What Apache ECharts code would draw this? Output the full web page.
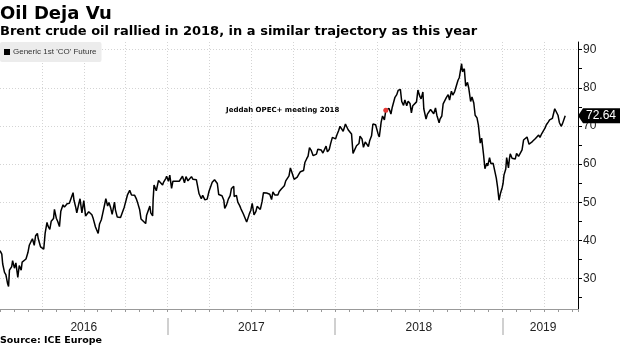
<!DOCTYPE html>
<html><head><meta charset="utf-8">
<script src="https://cdn.jsdelivr.net/npm/echarts@6/dist/echarts.min.js"></script>
<style>html,body{margin:0;padding:0;background:#fff}#c{width:620px;height:348px}</style>
</head><body><div id="c"></div>
<script>
const titleText = 'Oil Deja Vu';
const subtitleText = 'Brent crude oil rallied in 2018, in a similar trajectory as this year';
const sourceText = 'Source: ICE Europe';
const seriesName = "Generic 1st 'CO' Future";
const annotationDate = '2018-04-20';
const annotationText = 'Jeddah OPEC+ meeting 2018';
const lastLabel = '72.64';
const yTicks = [25,30,35,40,45,50,55,60,65,70,75,80,85,90];
const yLabels = [30,40,50,60,70,80,90];
const yearLabels = ['2016','2017','2018','2019'];

const dates = [
'2016-01-01','2016-01-05','2016-01-07','2016-01-11','2016-01-14','2016-01-18','2016-01-20','2016-01-22','2016-01-27','2016-01-29',
'2016-02-02','2016-02-05','2016-02-09','2016-02-11','2016-02-12','2016-02-16','2016-02-18','2016-02-22','2016-02-26',
'2016-03-01','2016-03-04','2016-03-08','2016-03-11','2016-03-15','2016-03-18','2016-03-22','2016-03-24','2016-03-29',
'2016-04-01','2016-04-05','2016-04-08','2016-04-12','2016-04-14','2016-04-18','2016-04-21','2016-04-26','2016-04-28',
'2016-05-02','2016-05-05','2016-05-09','2016-05-12','2016-05-17','2016-05-20','2016-05-24','2016-05-26','2016-05-31',
'2016-06-03','2016-06-08','2016-06-10','2016-06-14','2016-06-16','2016-06-20','2016-06-23','2016-06-27',
'2016-07-01','2016-07-05','2016-07-08','2016-07-12','2016-07-15','2016-07-19','2016-07-22','2016-07-27',
'2016-08-02','2016-08-05','2016-08-09','2016-08-12','2016-08-16','2016-08-19','2016-08-23','2016-08-26','2016-08-30',
'2016-09-02','2016-09-07','2016-09-09','2016-09-13','2016-09-16','2016-09-20','2016-09-23','2016-09-28','2016-09-30',
'2016-10-05','2016-10-10','2016-10-14','2016-10-18','2016-10-21','2016-10-25','2016-10-28',
'2016-11-01','2016-11-04','2016-11-08','2016-11-14','2016-11-16','2016-11-18','2016-11-23','2016-11-25','2016-11-29','2016-11-30',
'2016-12-02','2016-12-07','2016-12-12','2016-12-16','2016-12-21','2016-12-23','2016-12-28','2016-12-30',
'2017-01-03','2017-01-06','2017-01-10','2017-01-13','2017-01-17','2017-01-20','2017-01-24','2017-01-27','2017-01-31',
'2017-02-03','2017-02-07','2017-02-10','2017-02-14','2017-02-17','2017-02-21','2017-02-24','2017-02-28',
'2017-03-03','2017-03-07','2017-03-09','2017-03-14','2017-03-17','2017-03-22','2017-03-27','2017-03-31',
'2017-04-04','2017-04-07','2017-04-12','2017-04-18','2017-04-21','2017-04-25','2017-04-28',
'2017-05-02','2017-05-04','2017-05-08','2017-05-12','2017-05-16','2017-05-19','2017-05-24','2017-05-25','2017-05-30',
'2017-06-02','2017-06-06','2017-06-09','2017-06-14','2017-06-16','2017-06-21','2017-06-23','2017-06-27','2017-06-30',
'2017-07-03','2017-07-07','2017-07-11','2017-07-14','2017-07-18','2017-07-21','2017-07-25','2017-07-28','2017-07-31',
'2017-08-04','2017-08-08','2017-08-11','2017-08-15','2017-08-18','2017-08-22','2017-08-25','2017-08-29',
'2017-09-01','2017-09-05','2017-09-08','2017-09-12','2017-09-15','2017-09-19','2017-09-22','2017-09-25','2017-09-29',
'2017-10-03','2017-10-06','2017-10-10','2017-10-13','2017-10-17','2017-10-20','2017-10-24','2017-10-27','2017-10-31',
'2017-11-03','2017-11-06','2017-11-10','2017-11-14','2017-11-17','2017-11-21','2017-11-24','2017-11-28',
'2017-12-01','2017-12-05','2017-12-08','2017-12-12','2017-12-15','2017-12-19','2017-12-22','2017-12-26','2017-12-29',
'2018-01-02','2018-01-05','2018-01-09','2018-01-12','2018-01-15','2018-01-19','2018-01-24','2018-01-26','2018-01-30',
'2018-02-02','2018-02-06','2018-02-09','2018-02-13','2018-02-16','2018-02-21','2018-02-23','2018-02-27',
'2018-03-02','2018-03-06','2018-03-09','2018-03-13','2018-03-16','2018-03-20','2018-03-23','2018-03-27','2018-03-29',
'2018-04-03','2018-04-06','2018-04-10','2018-04-13','2018-04-17','2018-04-20','2018-04-24','2018-04-27',
'2018-05-01','2018-05-04','2018-05-08','2018-05-10','2018-05-14','2018-05-17','2018-05-22','2018-05-25','2018-05-29',
'2018-06-01','2018-06-05','2018-06-08','2018-06-12','2018-06-15','2018-06-18','2018-06-22','2018-06-26','2018-06-29',
'2018-07-03','2018-07-06','2018-07-10','2018-07-12','2018-07-17','2018-07-20','2018-07-24','2018-07-27','2018-07-31',
'2018-08-03','2018-08-07','2018-08-10','2018-08-15','2018-08-17','2018-08-21','2018-08-24','2018-08-28','2018-08-31',
'2018-09-04','2018-09-07','2018-09-11','2018-09-14','2018-09-18','2018-09-21','2018-09-25','2018-09-28',
'2018-10-03','2018-10-05','2018-10-09','2018-10-12','2018-10-16','2018-10-19','2018-10-23','2018-10-26','2018-10-30',
'2018-11-02','2018-11-06','2018-11-09','2018-11-13','2018-11-16','2018-11-20','2018-11-23','2018-11-27','2018-11-29',
'2018-12-03','2018-12-06','2018-12-11','2018-12-14','2018-12-18','2018-12-21','2018-12-24','2018-12-27','2018-12-31',
'2019-01-02','2019-01-04','2019-01-08','2019-01-10','2019-01-14','2019-01-16','2019-01-18','2019-01-22','2019-01-25','2019-01-29',
'2019-02-01','2019-02-05','2019-02-08','2019-02-12','2019-02-15','2019-02-19','2019-02-22','2019-02-26',
'2019-03-01','2019-03-05','2019-03-08','2019-03-12','2019-03-15','2019-03-19','2019-03-22','2019-03-26','2019-03-29',
'2019-04-02','2019-04-05','2019-04-09','2019-04-12','2019-04-16','2019-04-18','2019-04-23','2019-04-25','2019-04-30',
'2019-05-03','2019-05-07','2019-05-10','2019-05-13','2019-05-16'
];
const prices = [
37.3,36.4,33.8,31.6,31.0,28.6,27.9,32.2,33.1,34.7,
32.7,34.1,30.3,30.1,33.4,32.2,34.3,34.7,35.1,
36.8,38.7,39.7,40.4,38.7,41.2,41.8,40.4,38.3,
38.7,37.7,41.9,44.7,43.8,42.9,45.0,45.7,48.1,
45.8,45.0,43.6,47.6,49.3,48.7,48.6,49.6,49.7,
49.6,52.5,50.5,48.5,47.2,49.4,50.9,47.2,
50.4,46.4,46.8,47.5,47.6,46.7,45.7,43.5,
41.8,44.3,45.4,47.0,49.2,50.9,49.0,49.9,48.4,
46.8,50.0,48.0,46.1,45.8,46.0,45.9,48.7,49.1,
51.9,53.1,51.9,52.0,51.8,50.8,49.7,
48.1,45.6,46.0,44.4,46.6,46.9,49.0,47.2,46.4,50.5,
54.5,53.0,55.7,55.2,54.5,55.2,56.2,56.8,
55.5,57.1,53.6,55.5,55.5,55.5,55.4,55.5,55.7,
56.8,55.1,56.7,55.6,55.8,56.7,56.0,55.6,
55.9,55.9,52.2,50.9,51.8,50.6,50.8,52.8,
54.2,55.2,55.9,54.9,52.0,52.1,51.7,
50.5,48.4,49.3,50.8,51.7,53.6,54.2,51.5,51.8,
50.0,49.1,48.2,46.9,47.4,44.8,45.5,47.0,47.9,
49.7,46.7,47.5,48.9,49.0,48.1,50.2,52.5,52.7,
52.4,52.1,52.1,50.7,52.7,51.9,52.4,51.9,
52.8,53.4,53.8,54.3,55.6,55.1,56.9,59.0,57.5,
56.0,55.6,56.6,57.2,58.0,57.8,58.3,60.4,61.4,
62.1,64.3,63.5,62.2,62.7,62.6,63.9,63.6,
63.7,62.9,63.4,64.7,63.2,63.8,65.3,67.0,66.9,
66.6,67.6,68.8,69.9,70.3,68.6,70.5,70.5,69.0,
68.6,67.9,62.8,62.7,64.8,65.4,67.3,66.6,
64.4,65.8,65.5,64.6,66.2,67.4,70.5,70.1,70.3,
68.1,67.1,71.0,72.6,71.6,74.1,73.9,74.6,
73.1,74.9,74.9,77.5,78.2,79.3,79.6,76.4,75.4,
76.8,75.3,76.5,75.9,73.4,75.3,75.6,76.3,79.4,
77.8,77.1,78.9,74.5,71.8,73.1,73.4,74.3,74.3,
73.2,74.7,72.8,70.8,71.8,72.6,75.8,76.3,77.4,
78.2,76.8,79.1,78.1,79.0,78.8,81.9,82.7,
86.3,84.2,85.0,80.4,81.4,79.8,76.4,77.6,76.0,
72.8,72.1,70.2,65.5,66.8,62.5,58.8,60.2,59.5,
61.7,60.1,60.2,60.3,56.3,53.8,50.5,52.2,53.8,
54.9,57.1,58.7,61.7,59.0,61.3,62.7,61.5,61.6,61.3,
62.8,62.0,62.1,63.7,66.3,66.5,67.1,65.2,
65.1,65.9,65.7,66.7,67.2,67.6,67.0,68.0,68.4,
69.4,70.3,71.0,71.6,71.7,72.0,74.5,74.4,72.8,
70.9,69.9,70.6,70.2,72.64
];

// x axis unit: months since Jan 2016
function monthPos(s){
  const [y,m,d] = s.split('-').map(Number);
  const dim = new Date(y, m, 0).getDate();
  return (y-2016)*12 + (m-1) + (d-1)/dim;
}
const X_MAX = 41.4;
const seriesData = dates.map((d,i)=>[monthPos(d), prices[i]]);
const annIdx = dates.indexOf(annotationDate);

const chart = echarts.init(document.getElementById('c'), null, {renderer:'canvas'});
const grayText = '#222';
chart.setOption({
  animation:false,
  backgroundColor:'#fff',
  title:[
    {text:titleText, left:0, top:5, padding:0, textStyle:{fontFamily:'DejaVu Sans', fontWeight:'bold', fontSize:18, color:'#000'}},
    {text:subtitleText, left:0, top:25, padding:0, textStyle:{fontFamily:'DejaVu Sans', fontWeight:'bold', fontSize:13, color:'#000'}},
    {text:sourceText, left:0, top:336, padding:0, textStyle:{fontFamily:'DejaVu Sans', fontWeight:'bold', fontSize:9.5, color:'#000'}}
  ],
  legend:{
    left:0, top:42, padding:[6,5,6,4], backgroundColor:'#ececec', borderRadius:2,
    icon:'rect', itemWidth:6, itemHeight:6, itemGap:2,
    textStyle:{fontFamily:'Liberation Sans', fontSize:8, color:'#333', padding:[0,0,0,-2]},
    data:[seriesName]
  },
  grid:{left:0, right:42, top:42, bottom:39, containLabel:false},
  xAxis:[
    {type:'value', min:0, max:X_MAX, interval:3,
     axisLine:{show:true, onZero:false, lineStyle:{color:'#999'}},
     axisTick:{show:true, length:3, lineStyle:{color:'#999'}},
     minorTick:{show:true, splitNumber:3, length:3, lineStyle:{color:'#999'}},
     minorSplitLine:{show:false},
     axisLabel:{show:false},
     splitLine:{show:true, showMinLine:false, showMaxLine:false, lineStyle:{color:'#d4d4d4', type:[1,2], width:1}}},
    {type:'value', min:0, max:X_MAX, position:'bottom', offset:9,
     axisLine:{show:false, onZero:false},
     axisTick:{show:true, customValues:[12,24,36], length:17, lineStyle:{color:'#d0d0d0', width:2}},
     axisLabel:{show:true, customValues:[6,18,30,38.9], margin:4, fontFamily:'Liberation Sans', fontSize:12, color:grayText,
       formatter:(v)=>yearLabels[Math.floor(v/12)]},
     splitLine:{show:false}}
  ],
  yAxis:[
    {type:'value', position:'right', min:22, max:92,
     axisLine:{show:true, onZero:false, lineStyle:{color:'#000'}},
     axisTick:{show:true, customValues:yTicks, length:4, lineStyle:{color:'#000'}},
     axisLabel:{show:true, customValues:yLabels, margin:5, fontFamily:'Liberation Sans', fontSize:12, color:grayText},
     splitLine:{show:false}},
    {type:'value', position:'right', min:22, max:92,
     axisLine:{show:false, onZero:false}, axisLabel:{show:false},
     axisTick:{show:false, customValues:yLabels},
     splitLine:{show:true, lineStyle:{color:'#d4d4d4', type:[1,2], width:1}}}
  ],
  series:[{
    name:seriesName, type:'line', xAxisIndex:0, yAxisIndex:0,
    data:seriesData, showSymbol:false, symbol:'none',
    lineStyle:{color:'#000', width:1.5}, itemStyle:{color:'#000'},
    markPoint:{
      silent:true,
      data:[
        {coord:[monthPos(annotationDate), prices[annIdx]], symbol:'circle', symbolSize:5,
         itemStyle:{color:'#e53935'},
         label:{show:true, position:'left', distance:44, formatter:annotationText,
           fontFamily:'DejaVu Sans', fontWeight:'bold', fontSize:7, color:'#000'}},
        {coord:[X_MAX, prices[prices.length-1]], symbol:'path://M0,7.5L5,0L42,0L42,15L5,15Z',
         symbolSize:[42,15], symbolOffset:[21,0], symbolKeepAspect:false,
         itemStyle:{color:'#000'},
         label:{show:true, position:'inside', offset:[2,0], formatter:lastLabel,
           fontFamily:'Liberation Sans', fontSize:12, color:'#fff'}}
      ]
    }
  }]
});
</script></body></html>
